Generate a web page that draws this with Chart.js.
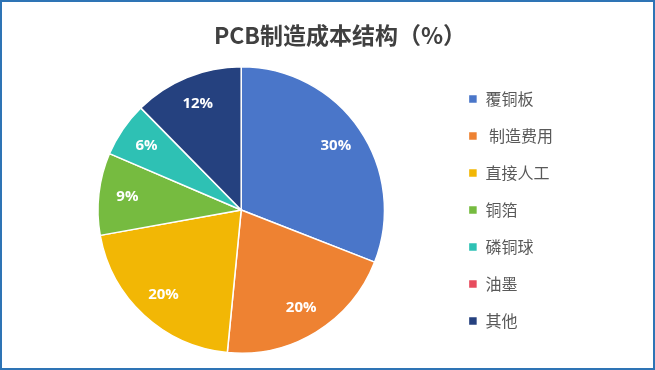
<!DOCTYPE html>
<html>
<head>
<meta charset="utf-8">
<script src="https://cdn.jsdelivr.net/npm/chart.js@4/dist/chart.umd.min.js"></script>
<style>
  body { margin: 0; background: #fff; }
  #wrap { width: 655px; height: 370px; box-sizing: border-box; border: 2px solid #2E74B5; position: relative; }
  #myChart { display: block; }
</style>
</head>
<body>
<div id="wrap"><canvas id="myChart" width="651" height="366"></canvas></div>
<script>
let categories = ['覆铜板', ' 制造费用', '直接人工', '铜箔', '磷铜球', '油墨', '其他']
let values = [30, 20, 20, 9, 6, 0, 12]
let colors = ['#4A76C9', '#EE8232', '#F2B705', '#76BB40', '#2EC1B4', '#E74C5E', '#25417F']
let titleText = 'PCB制造成本结构（%）'

let ctx = document.querySelector('#myChart')

// white percentage labels inside each slice, plus the title (centred over the whole card)
let sliceLabels = {
    id: 'sliceLabels',
    afterDatasetsDraw(chart) {
        let c = chart.ctx
        let meta = chart.getDatasetMeta(0)
        c.save()
        c.font = 'bold 15px "Open Sans", "Noto Sans", sans-serif'
        c.fillStyle = '#fff'
        c.textAlign = 'center'
        c.textBaseline = 'middle'
        meta.data.forEach((arc, i) => {
            if (!values[i]) return
            let p = arc.getProps(['x', 'y', 'startAngle', 'endAngle', 'outerRadius'])
            let mid = (p.startAngle + p.endAngle) / 2
            let r = p.outerRadius * 0.8
            c.fillText(values[i] + '%', p.x + Math.cos(mid) * r, p.y + Math.sin(mid) * r)
        })
        c.font = 'bold 23px "Noto Sans CJK SC", sans-serif'
        c.fillStyle = '#404040'
        c.fillText(titleText, 338, 33)
        c.restore()
    }
}

let myChart = new Chart(ctx, {
    type: 'pie',
    data: {
        labels: categories,
        datasets: [{
            data: values,
            backgroundColor: colors,
            borderColor: '#fff',
            borderWidth: 1.5
        }]
    },
    options: {
        responsive: false,
        animation: false,
        layout: { padding: { left: 33, right: 90, top: 64, bottom: 14 } },
        plugins: {
            title: { display: false },
            legend: {
                position: 'right',
                labels: {
                    boxWidth: 9,
                    boxHeight: 9,
                    padding: 21,
                    color: '#595959',
                    font: { size: 16, family: '"Noto Sans CJK SC", sans-serif' }
                }
            },
            tooltip: { enabled: false }
        }
    },
    plugins: [sliceLabels]
})
</script>
</body>
</html>
